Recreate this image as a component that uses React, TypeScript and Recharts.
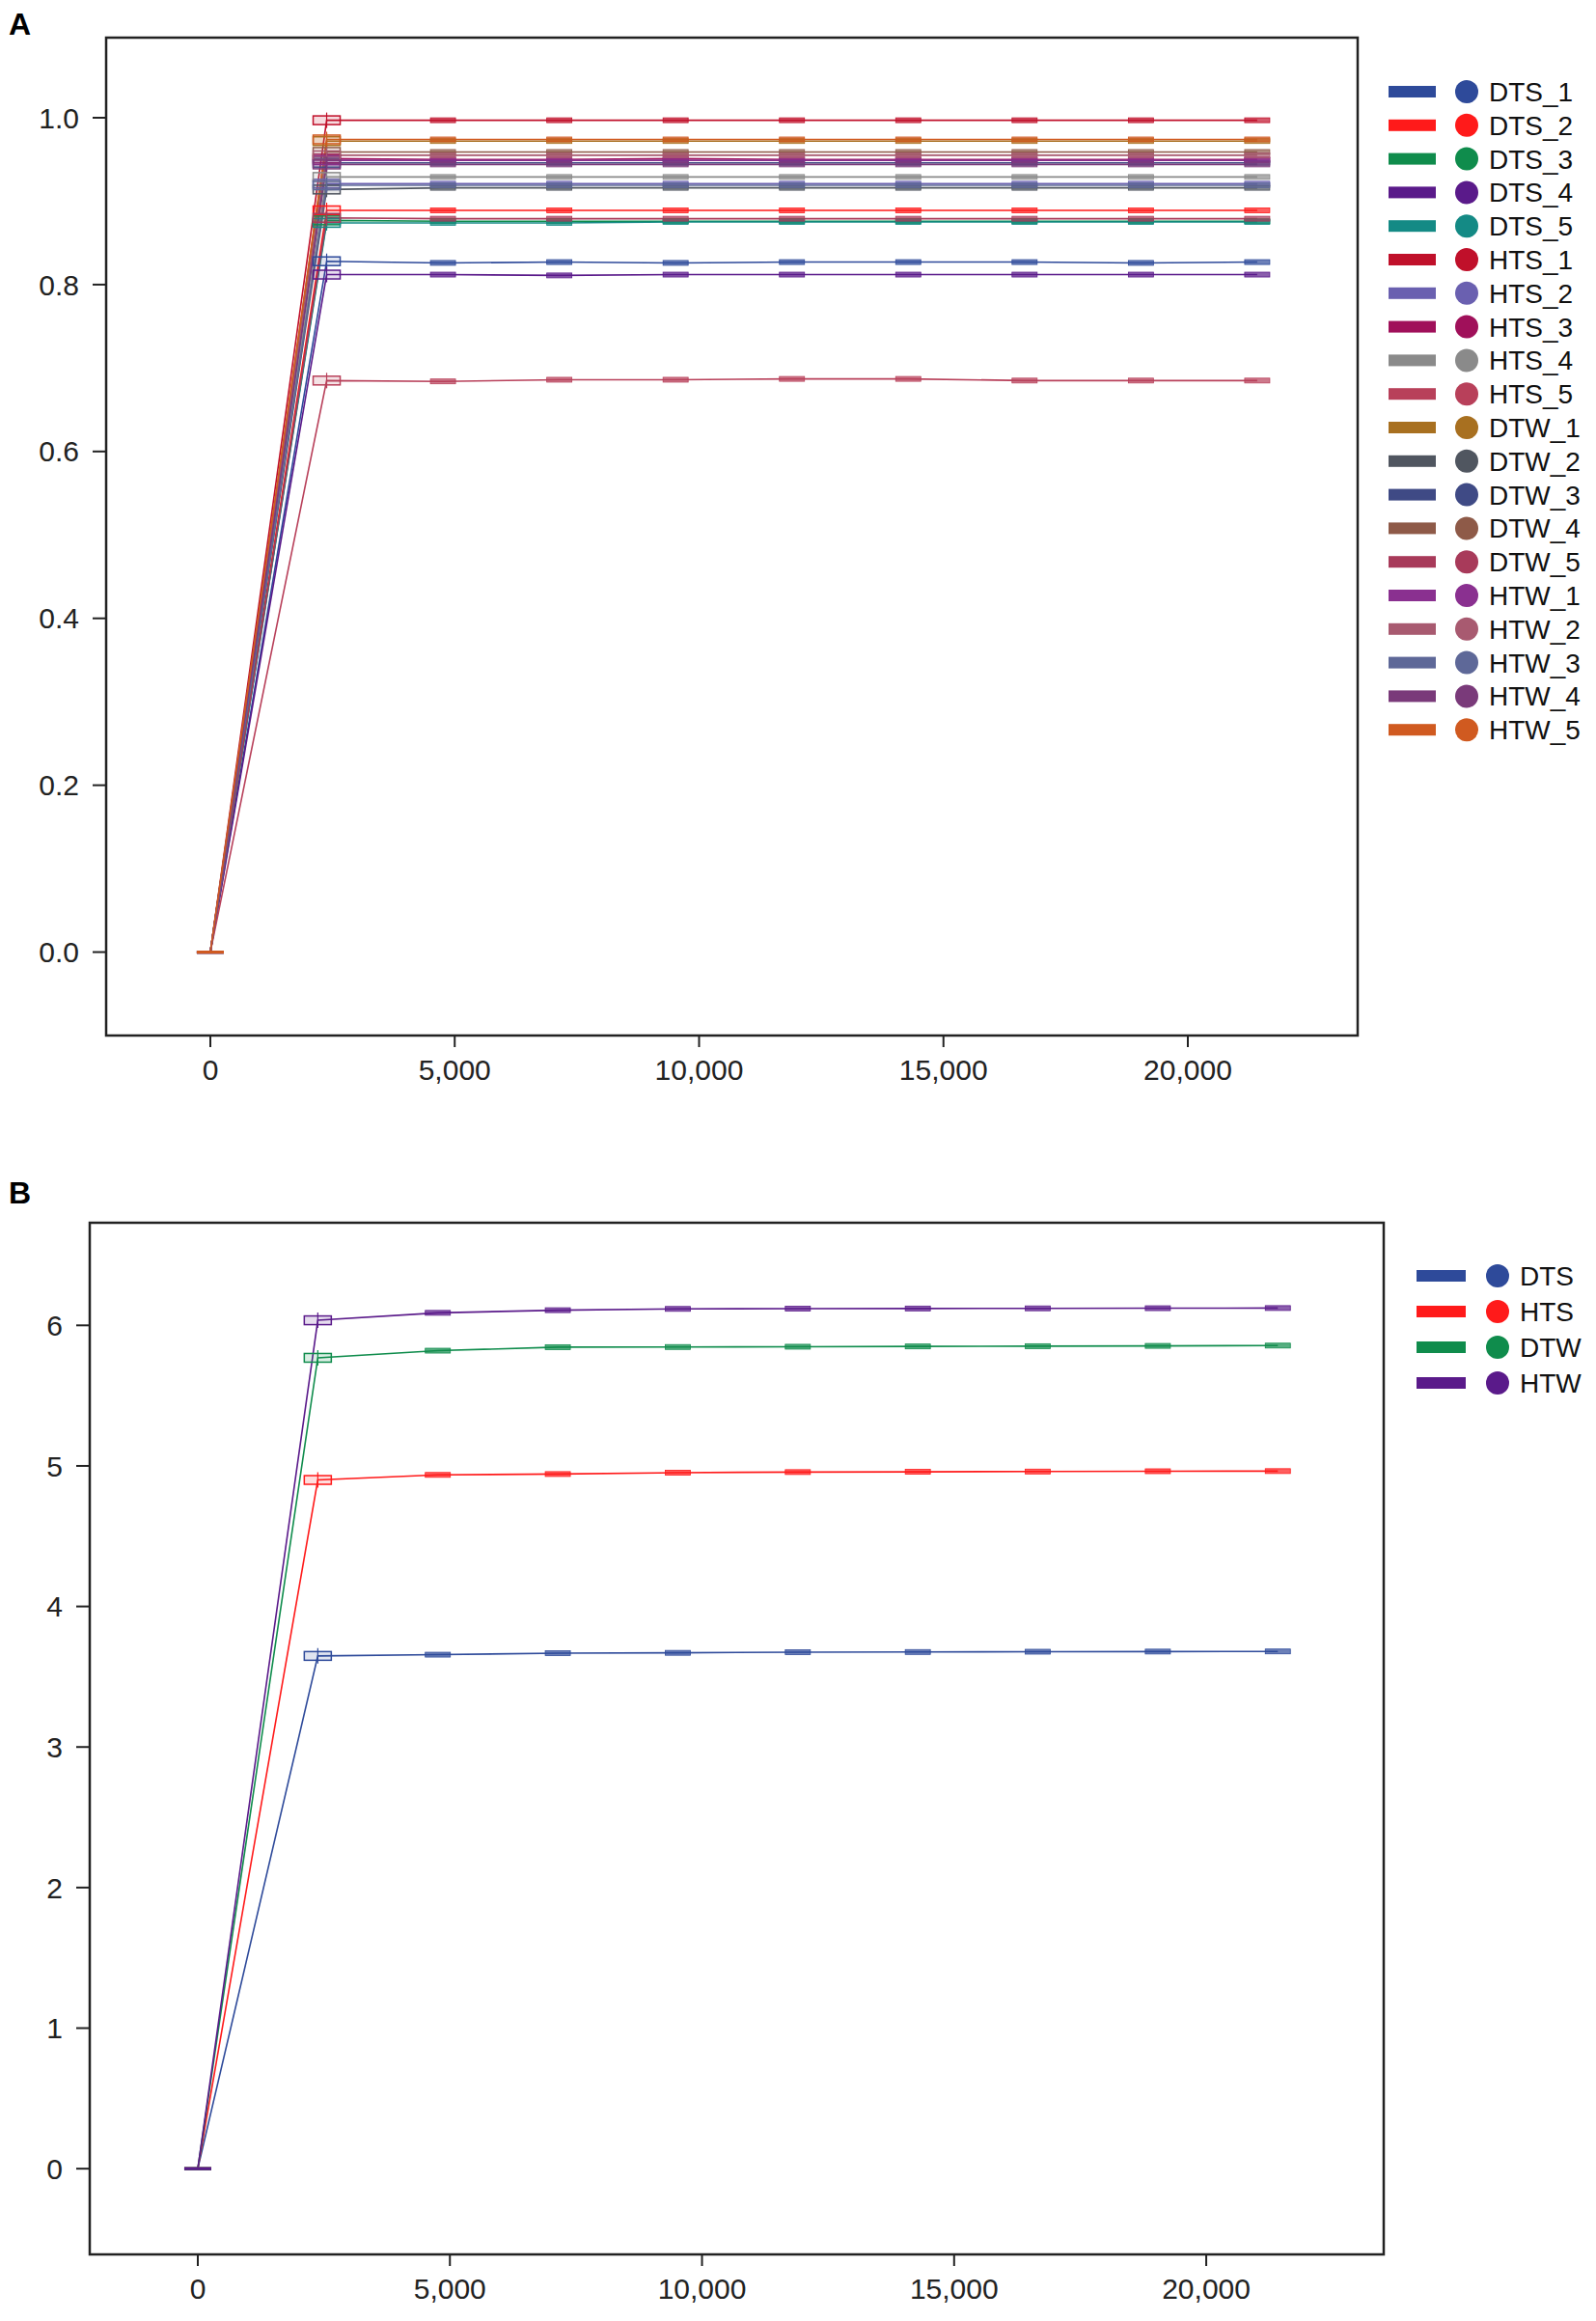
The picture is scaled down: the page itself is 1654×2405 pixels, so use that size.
import React from 'react';
import { LineChart, Line, XAxis, YAxis, ReferenceArea, Legend } from 'recharts';

// sequencing depth at each rarefaction step
const DEPTHS = [0, 2380, 4760, 7140, 9520, 11900, 14280, 16660, 19040, 21420];
const X_TICKS = [0, 5000, 10000, 15000, 20000];

// panel A: per-sample curves
const SAMPLES = [
  'DTS_1', 'DTS_2', 'DTS_3', 'DTS_4', 'DTS_5',
  'HTS_1', 'HTS_2', 'HTS_3', 'HTS_4', 'HTS_5',
  'DTW_1', 'DTW_2', 'DTW_3', 'DTW_4', 'DTW_5',
  'HTW_1', 'HTW_2', 'HTW_3', 'HTW_4', 'HTW_5',
];
const SAMPLE_COLORS = [
  '#2e4a9a', '#ff1a1a', '#0f8c4c', '#5a1a8a', '#148a85',
  '#c0102a', '#6a60b0', '#a0105a', '#8a8a8a', '#b8405a',
  '#a87020', '#505660', '#3f4a85', '#8e5a48', '#a83a5a',
  '#8a3090', '#a85a70', '#5e6898', '#7a3a7a', '#d05a20',
];
const DTS_1 = [0, 0.828, 0.826, 0.827, 0.826, 0.827, 0.827, 0.827, 0.826, 0.827];
const DTS_2 = [0, 0.889, 0.889, 0.889, 0.889, 0.889, 0.889, 0.889, 0.889, 0.889];
const DTS_3 = [0, 0.877, 0.876, 0.876, 0.876, 0.876, 0.876, 0.876, 0.876, 0.876];
const DTS_4 = [0, 0.812, 0.812, 0.811, 0.812, 0.812, 0.812, 0.812, 0.812, 0.812];
const DTS_5 = [0, 0.874, 0.874, 0.874, 0.875, 0.875, 0.875, 0.875, 0.875, 0.875];
const HTS_1 = [0, 0.997, 0.997, 0.997, 0.997, 0.997, 0.997, 0.997, 0.997, 0.997];
const HTS_2 = [0, 0.921, 0.921, 0.921, 0.921, 0.921, 0.921, 0.921, 0.921, 0.921];
const HTS_3 = [0, 0.951, 0.950, 0.950, 0.951, 0.950, 0.950, 0.950, 0.950, 0.950];
const HTS_4 = [0, 0.929, 0.929, 0.929, 0.929, 0.929, 0.929, 0.929, 0.929, 0.929];
const HTS_5 = [0, 0.685, 0.684, 0.686, 0.686, 0.687, 0.687, 0.685, 0.685, 0.685];
const DTW_1 = [0, 0.972, 0.972, 0.972, 0.972, 0.972, 0.972, 0.972, 0.972, 0.972];
const DTW_2 = [0, 0.914, 0.916, 0.916, 0.916, 0.916, 0.916, 0.916, 0.916, 0.916];
const DTW_3 = [0, 0.946, 0.946, 0.946, 0.946, 0.946, 0.946, 0.946, 0.946, 0.946];
const DTW_4 = [0, 0.959, 0.959, 0.959, 0.959, 0.959, 0.959, 0.959, 0.959, 0.959];
const DTW_5 = [0, 0.880, 0.879, 0.879, 0.879, 0.879, 0.879, 0.879, 0.879, 0.879];
const HTW_1 = [0, 0.949, 0.949, 0.949, 0.949, 0.949, 0.949, 0.949, 0.949, 0.949];
const HTW_2 = [0, 0.955, 0.955, 0.955, 0.955, 0.955, 0.955, 0.955, 0.955, 0.955];
const HTW_3 = [0, 0.919, 0.919, 0.919, 0.919, 0.919, 0.919, 0.919, 0.919, 0.919];
const HTW_4 = [0, 0.944, 0.944, 0.944, 0.944, 0.944, 0.944, 0.944, 0.944, 0.944];
const HTW_5 = [0, 0.974, 0.974, 0.974, 0.974, 0.974, 0.974, 0.974, 0.974, 0.974];
const SAMPLE_VALUES = [
  DTS_1, DTS_2, DTS_3, DTS_4, DTS_5,
  HTS_1, HTS_2, HTS_3, HTS_4, HTS_5,
  DTW_1, DTW_2, DTW_3, DTW_4, DTW_5,
  HTW_1, HTW_2, HTW_3, HTW_4, HTW_5,
];
const A_Y_TICKS = [0, 0.2, 0.4, 0.6, 0.8, 1.0];

// panel B: group curves
const GROUPS = ['DTS', 'HTS', 'DTW', 'HTW'];
const GROUP_COLORS = ['#2e4a9a', '#ff1a1a', '#0f8c4c', '#5a1a8a'];
const DTS = [0, 3.648, 3.657, 3.668, 3.670, 3.675, 3.676, 3.678, 3.679, 3.680];
const HTS = [0, 4.900, 4.936, 4.942, 4.952, 4.956, 4.958, 4.960, 4.962, 4.963];
const DTW = [0, 5.769, 5.820, 5.845, 5.846, 5.848, 5.850, 5.852, 5.854, 5.856];
const HTW = [0, 6.036, 6.089, 6.108, 6.117, 6.119, 6.120, 6.121, 6.122, 6.123];
const GROUP_VALUES = [DTS, HTS, DTW, HTW];
const B_Y_TICKS = [0, 1, 2, 3, 4, 5, 6];

const dataA = DEPTHS.map((d, i) => {
  const row: Record<string, number> = { depth: d };
  SAMPLES.forEach((s, k) => { row[s] = SAMPLE_VALUES[k][i]; });
  return row;
});
const dataB = DEPTHS.map((d, i) => {
  const row: Record<string, number> = { depth: d };
  GROUPS.forEach((g, k) => { row[g] = GROUP_VALUES[k][i]; });
  return row;
});

const FONT = '"Liberation Sans", Arial, sans-serif';
const TICK_STYLE = { fontSize: 30, fill: '#222', fontFamily: FONT };

const BoxDot = ({ cx, cy, index, color }: any) => {
  if (cx == null || cy == null) return null;
  if (index === 0) {
    return <rect x={cx - 14} y={cy - 1.5} width={28} height={3} fill={color} />;
  }
  if (index === 1) {
    return (
      <g>
        <line x1={cx} x2={cx} y1={cy - 8} y2={cy + 8} stroke={color} strokeWidth={1.2} />
        <rect x={cx - 14} y={cy - 4.5} width={28} height={9} fill={color} fillOpacity={0.15} stroke={color} strokeWidth={1.5} />
      </g>
    );
  }
  return <rect x={cx - 13} y={cy - 2.5} width={26} height={5} fill={color} fillOpacity={0.7} stroke={color} strokeWidth={0.8} />;
};

const makeLegend = (names: string[], colors: string[], rowGap: number, sw: number, cxOff: number, txtOff: number) => () => (
  <svg width={240} height={names.length * rowGap + 10}>
    {names.map((n, i) => {
      const y = 16 + i * rowGap;
      return (
        <g key={n}>
          <rect x={8} y={y - 6} width={sw} height={12} fill={colors[i]} />
          <circle cx={cxOff} cy={y} r={12} fill={colors[i]} />
          <text x={txtOff} y={y + 10} fontSize={28} fontFamily={FONT} fill="#111">{n}</text>
        </g>
      );
    })}
  </svg>
);

const fmtX = (v: number) => v.toLocaleString('en-US');

export default function App() {
  const A_X = [-2132, 23475];
  const A_Y = [-0.1, 1.096];
  const B_X = [-2143, 23520];
  const B_Y = [-0.61, 6.73];

  return (
    <div style={{ position: 'absolute', left: 0, top: 0, width: 1654, height: 2405, background: '#fff' }}>
      <div style={{ position: 'absolute', left: 9, top: 9, fontSize: 32, lineHeight: 1, fontWeight: 'bold', fontFamily: FONT }}>A</div>
      <div style={{ position: 'absolute', left: 0, top: 0 }}>
        <LineChart width={1654} height={1200} data={dataA} margin={{ top: 39, right: 247, bottom: 67, left: 30 }}>
          <XAxis
            type="number" dataKey="depth" domain={A_X} ticks={X_TICKS} allowDataOverflow
            tickFormatter={fmtX} axisLine={false} tickSize={12} tickMargin={13}
            tickLine={{ stroke: '#222', strokeWidth: 2 }} tick={TICK_STYLE} height={60}
          />
          <YAxis
            type="number" domain={A_Y} ticks={A_Y_TICKS} allowDataOverflow
            tickFormatter={(v: number) => v.toFixed(1)} axisLine={false} tickSize={14} tickMargin={14}
            tickLine={{ stroke: '#222', strokeWidth: 2 }} tick={TICK_STYLE} width={80}
          />
          <ReferenceArea x1={A_X[0]} x2={A_X[1]} y1={A_Y[0]} y2={A_Y[1]} fill="none" stroke="#222" strokeWidth={2.5} ifOverflow="visible" />
          {SAMPLES.map((s, k) => (
            <Line
              key={s} type="linear" dataKey={s} stroke={SAMPLE_COLORS[k]} strokeWidth={1.6}
              isAnimationActive={false}
              dot={(p: any) => <BoxDot key={`${s}-${p.index}`} cx={p.cx} cy={p.cy} index={p.index} color={SAMPLE_COLORS[k]} />}
              activeDot={false}
            />
          ))}
          <Legend
            layout="vertical" align="center" verticalAlign="middle"
            wrapperStyle={{ left: 1431, top: 79, width: 240 }}
            content={makeLegend(SAMPLES, SAMPLE_COLORS, 34.8, 49, 89, 112)}
          />
        </LineChart>
      </div>

      <div style={{ position: 'absolute', left: 9, top: 1220, fontSize: 32, lineHeight: 1, fontWeight: 'bold', fontFamily: FONT }}>B</div>
      <div style={{ position: 'absolute', left: 0, top: 1200 }}>
        <LineChart width={1654} height={1205} data={dataB} margin={{ top: 67, right: 220, bottom: 9, left: 13 }}>
          <XAxis
            type="number" dataKey="depth" domain={B_X} ticks={X_TICKS} allowDataOverflow
            tickFormatter={fmtX} axisLine={false} tickSize={12} tickMargin={13}
            tickLine={{ stroke: '#222', strokeWidth: 2 }} tick={TICK_STYLE} height={60}
          />
          <YAxis
            type="number" domain={B_Y} ticks={B_Y_TICKS} allowDataOverflow
            axisLine={false} tickSize={14} tickMargin={14}
            tickLine={{ stroke: '#222', strokeWidth: 2 }} tick={TICK_STYLE} width={80}
          />
          <ReferenceArea x1={B_X[0]} x2={B_X[1]} y1={B_Y[0]} y2={B_Y[1]} fill="none" stroke="#222" strokeWidth={2.5} ifOverflow="visible" />
          {GROUPS.map((g, k) => (
            <Line
              key={g} type="linear" dataKey={g} stroke={GROUP_COLORS[k]} strokeWidth={1.6}
              isAnimationActive={false}
              dot={(p: any) => <BoxDot key={`${g}-${p.index}`} cx={p.cx} cy={p.cy} index={p.index} color={GROUP_COLORS[k]} />}
              activeDot={false}
            />
          ))}
          <Legend
            layout="vertical" align="center" verticalAlign="middle"
            wrapperStyle={{ left: 1460, top: 106, width: 240 }}
            content={makeLegend(GROUPS, GROUP_COLORS, 37, 51, 92, 115)}
          />
        </LineChart>
      </div>
    </div>
  );
}
